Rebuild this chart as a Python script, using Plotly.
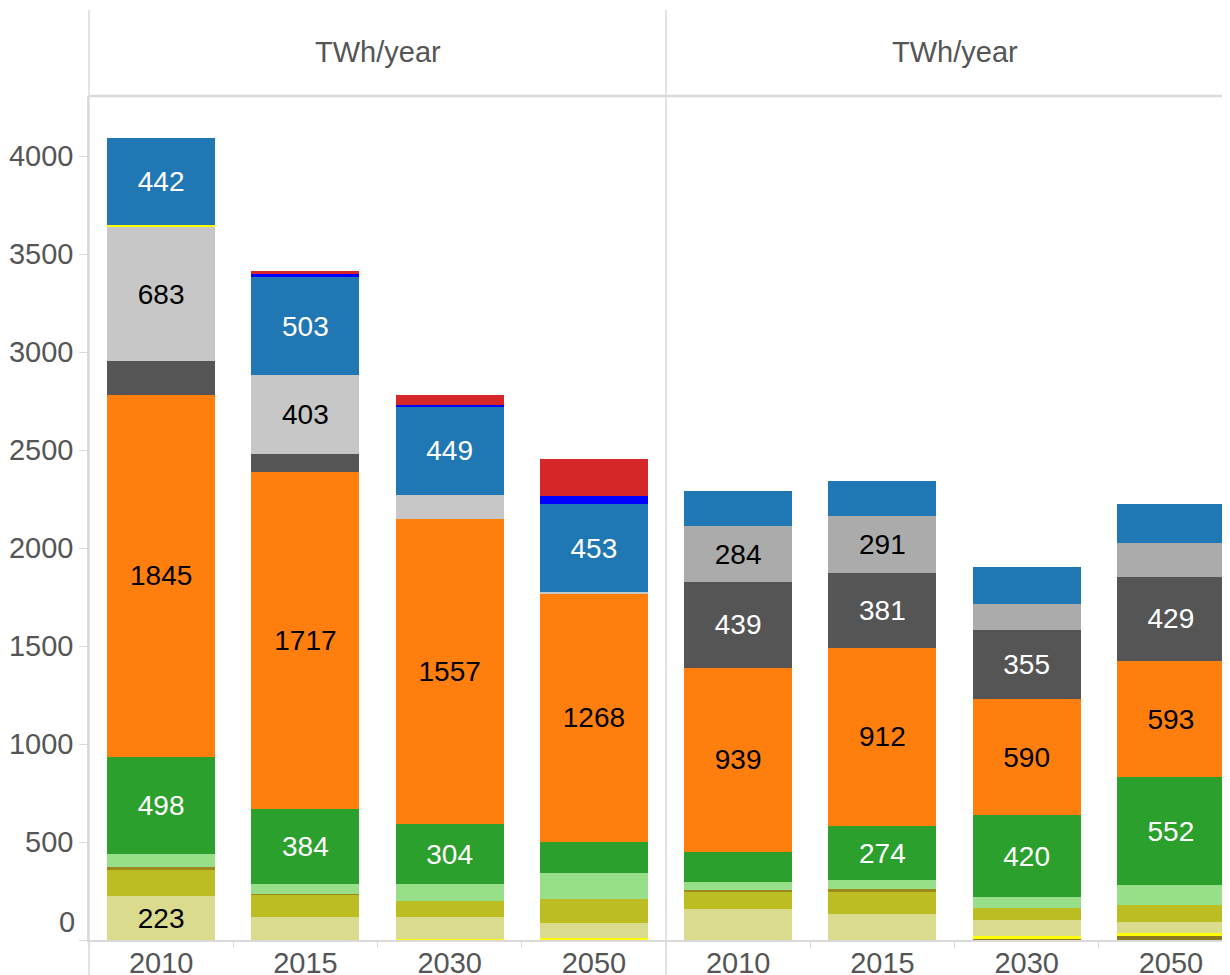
# Stacked electricity generation bars, two panels (TWh/year)

import plotly.graph_objects as go
from plotly.subplots import make_subplots

# Data
years = ['2010', '2015', '2030', '2050']

# series, bottom of the stack first
series_names = ['base_dark', 'base_yellow', 'beige', 'olive', 'brown', 'light_green', 'green',
                'orange', 'dark_gray', 'mid_gray', 'light_gray', 'yellow', 'blue', 'pure_blue', 'red']

series_colors = ['#8a7a20', '#ffff00', '#dbdb8d', '#bcbd22', '#9c8a1c', '#98df8a', '#2ca02c',
                 '#ff7f0e', '#555555', '#ababab', '#c7c7c7', '#ffff00', '#1f77b4', '#0000ff', '#d62728']

label_colors = ['white', 'black', 'black', 'black', 'white', 'black', 'white',
                'black', 'white', 'black', 'black', 'black', 'white', 'white', 'white']

left_values = {
    'base_dark':   [0, 0, 0, 0],
    'base_yellow': [0, 0, 6, 10],
    'beige':       [223, 119, 111, 77],
    'olive':       [133, 112, 82, 122],
    'brown':       [15, 6, 0, 0],
    'light_green': [66, 48, 87, 133],
    'green':       [498, 384, 304, 158],
    'orange':      [1845, 1717, 1557, 1268],
    'dark_gray':   [173, 92, 0, 0],
    'mid_gray':    [0, 0, 0, 0],
    'light_gray':  [683, 403, 125, 5],
    'yellow':      [14, 0, 0, 0],
    'blue':        [442, 503, 449, 453],
    'pure_blue':   [0, 14, 10, 41],
    'red':         [0, 17, 51, 189],
}

right_values = {
    'base_dark':   [0, 0, 10, 24],
    'base_yellow': [0, 0, 9, 10],
    'beige':       [158, 133, 82, 56],
    'olive':       [87, 114, 61, 87],
    'brown':       [10, 12, 0, 0],
    'light_green': [41, 47, 56, 102],
    'green':       [153, 274, 420, 552],
    'orange':      [939, 912, 590, 593],
    'dark_gray':   [439, 381, 355, 429],
    'mid_gray':    [284, 291, 133, 173],
    'light_gray':  [0, 0, 0, 0],
    'yellow':      [0, 0, 0, 0],
    'blue':        [179, 179, 189, 199],
    'pure_blue':   [0, 0, 0, 0],
    'red':         [0, 0, 0, 0],
}

panel_titles = ['TWh/year', 'TWh/year']
y_ticks = [0, 500, 1000, 1500, 2000, 2500, 3000, 3500, 4000]

LABEL_MIN = 200
W, H = 1230, 975
OFFSET = 8  # page body margin around the plot div
FONT = 'Liberation Sans, Arial, sans-serif'
AXIS_GRAY = '#dadada'
TEXT_GRAY = '#555555'


def px_x(x):
    # screen pixel -> paper fraction
    return (x - OFFSET) / W


def px_y(y):
    return (H - (y - OFFSET)) / H


fig = make_subplots(rows=1, cols=2, shared_yaxes=True, horizontal_spacing=0)

for col, values in [(1, left_values), (2, right_values)]:
    for name, color, lcolor in zip(series_names, series_colors, label_colors):
        vals = values[name]
        fig.add_trace(go.Bar(
            name=name,
            x=years,
            y=vals,
            marker=dict(color=color, line=dict(width=0)),
            text=[str(v) if v >= LABEL_MIN else '' for v in vals],
            textposition='inside',
            insidetextanchor='middle',
            textangle=0,
            textfont=dict(family=FONT, size=28, color=lcolor),
            showlegend=False,
            hovertemplate=f'{name}<br>%{{x}}: %{{y}} TWh<extra></extra>'
        ), row=1, col=col)

y_top = (940 - 96) / 0.196
band = (666 - 89) / 4

fig.update_layout(
    width=W, height=H,
    barmode='stack',
    bargap=0.25,
    margin=dict(l=0, r=0, t=0, b=0),
    paper_bgcolor='white',
    plot_bgcolor='white',
    font=dict(family=FONT, color=TEXT_GRAY),
    uniformtext=dict(minsize=10, mode='show'),
)

x_common = dict(
    type='category',
    showgrid=False,
    showline=True, linecolor=AXIS_GRAY, linewidth=1.5,
    ticks='outside', tickson='boundaries', ticklen=6, tickcolor=AXIS_GRAY,
    ticklabelstandoff=-4,
    tickfont=dict(size=29, color=TEXT_GRAY),
    zeroline=False,
)
fig.update_xaxes(**x_common)
fig.update_layout(
    xaxis=dict(domain=[px_x(89), px_x(666)], range=[-0.5, 3.5]),
    xaxis2=dict(domain=[px_x(666), 1], range=[-0.5, -0.5 + (W + OFFSET - 666) / band]),
)

fig.update_layout(
    yaxis=dict(
        domain=[px_y(940), px_y(96)],
        range=[0, y_top],
        showgrid=False, zeroline=False,
        showline=True, linecolor=AXIS_GRAY, linewidth=1.5,
        ticks='outside', ticklen=8, tickcolor=AXIS_GRAY,
        tickvals=y_ticks,
        ticktext=['' if t == 0 else str(t) for t in y_ticks],
        tickfont=dict(size=29, color=TEXT_GRAY),
    ),
    yaxis2=dict(
        domain=[px_y(940), px_y(96)],
        showgrid=False, zeroline=False, showline=False,
        ticks='', showticklabels=False,
    ),
)

# "0" label sits a bit above the baseline, as in the source
fig.add_annotation(x=px_x(77), xref='paper', xanchor='right', y=0, yref='y',
                   yanchor='middle', yshift=18, text='0', showarrow=False,
                   font=dict(size=29, color=TEXT_GRAY))

# Panel headers
for title, (x0, x1) in zip(panel_titles, [(89, 666), (666, 1243)]):
    fig.add_annotation(x=px_x((x0 + x1) / 2), xref='paper', y=px_y(52), yref='paper',
                       text=title, showarrow=False, xanchor='center', yanchor='middle',
                       font=dict(size=29, color=TEXT_GRAY))

# Header / panel frame lines
line_style = dict(color=AXIS_GRAY, width=1.5)
fig.add_shape(type='line', xref='paper', yref='paper', x0=px_x(89), x1=px_x(89),
              y0=px_y(10), y1=0, line=line_style)
fig.add_shape(type='line', xref='paper', yref='paper', x0=px_x(666), x1=px_x(666),
              y0=px_y(10), y1=0, line=line_style)
fig.add_shape(type='line', xref='paper', yref='paper', x0=px_x(89), x1=1,
              y0=px_y(96), y1=px_y(96), line=dict(color=AXIS_GRAY, width=2.5))

fig.write_html("out.html")
